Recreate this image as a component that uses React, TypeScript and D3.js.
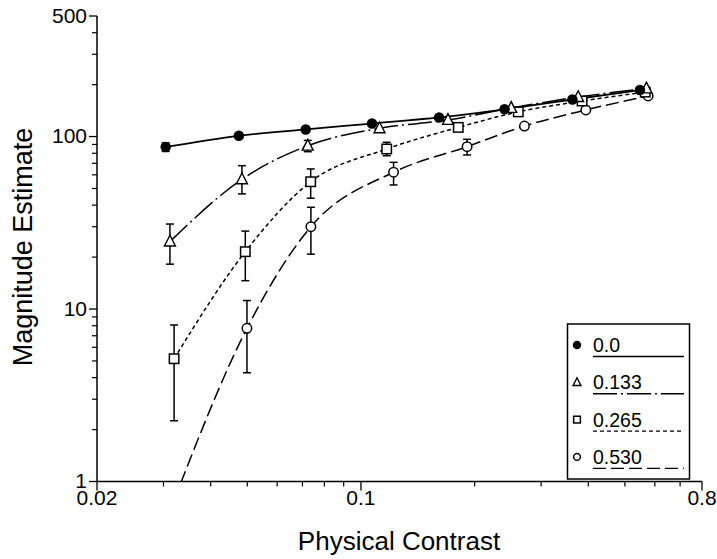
import React from 'react';
import * as d3 from 'd3';

// axis ticks
const xTicks = [0.02, 0.1, 0.8];
const xMinorTicks = [0.03, 0.04, 0.05, 0.06, 0.07, 0.08, 0.09, 0.2, 0.3, 0.4, 0.5, 0.6, 0.7];
const yTicks = [1, 10, 100, 500];
const yMinorTicks = [2, 3, 4, 5, 6, 7, 8, 9, 20, 30, 40, 50, 60, 70, 80, 90, 200, 300, 400];

const seriesNames = ['0.0', '0.133', '0.265', '0.530'];

// 0.0
const contrast0 = [0.0304, 0.0475, 0.0714, 0.107, 0.161, 0.24, 0.363, 0.548];
const magnitude0 = [87, 101, 110, 119, 129, 144, 164, 186];
const errLow0 = [82, null, null, null, null, null, null, null];
const errHigh0 = [92, null, null, null, null, null, null, null];

// 0.133
const contrast1 = [0.0312, 0.0484, 0.0723, 0.112, 0.17, 0.25, 0.376, 0.57];
const magnitude1 = [24.6, 56.5, 88.5, 111.7, 124.8, 146.5, 169.5, 190];
const errLow1 = [18.2, 46.5, 81.7, null, null, null, null, null];
const errHigh1 = [31.1, 67.8, 95, null, null, null, null, null];

// 0.265
const contrast2 = [0.032, 0.0494, 0.0736, 0.117, 0.181, 0.261, 0.385, 0.566];
const magnitude2 = [5.15, 21.5, 54.7, 84.7, 113, 139, 160.7, 181];
const errLow2 = [2.25, 14.6, 43.9, 77.4, null, null, null, null];
const errHigh2 = [8.08, 28.3, 64.9, 92.6, null, null, null, null];

// 0.530 (first point lies below the axis)
const contrast3 = [0.032, 0.0499, 0.0737, 0.122, 0.191, 0.271, 0.394, 0.576];
const magnitude3 = [0.78, 7.73, 30.0, 62.1, 87.4, 115, 142.6, 171.9];
const errLow3 = [null, 4.27, 20.8, 52.4, 78.2, null, null, null];
const errHigh3 = [null, 11.2, 38.9, 70.9, 96.4, null, null, null];

const contrasts = [contrast0, contrast1, contrast2, contrast3];
const magnitudes = [magnitude0, magnitude1, magnitude2, magnitude3];
const errLows = [errLow0, errLow1, errLow2, errLow3];
const errHighs = [errHigh0, errHigh1, errHigh2, errHigh3];

const markers = ['filled', 'triangle', 'square', 'circle'];
const dashes = ['none', '24 4 2 4', '4 3', '13 5'];

const W = 717;
const H = 559;
const FONT = '"Liberation Sans", Arial, Helvetica, sans-serif';

const x = d3.scaleLog().domain([0.02, 0.8]).range([97, 702]);
const y = d3.scaleLog().domain([1, 500]).range([481.5, 16]);

function Marker({ kind, cx, cy, s }: { kind: string; cx: number; cy: number; s: number }) {
  if (kind === 'filled') return <circle cx={cx} cy={cy} r={s * 0.5} fill="#000" />;
  if (kind === 'circle')
    return <circle cx={cx} cy={cy} r={s * 0.45} fill="#fff" stroke="#000" strokeWidth={1.5} />;
  if (kind === 'square')
    return (
      <rect x={cx - s * 0.45} y={cy - s * 0.45} width={s * 0.9} height={s * 0.9}
        fill="#fff" stroke="#000" strokeWidth={1.5} />
    );
  const p = `M${cx},${cy - s * 0.6}L${cx + s * 0.52},${cy + s * 0.42}L${cx - s * 0.52},${cy + s * 0.42}Z`;
  return <path d={p} fill="#fff" stroke="#000" strokeWidth={1.4} />;
}

export default function App() {
  const line = d3
    .line<[number, number]>()
    .x((d) => x(d[0]))
    .y((d) => y(d[1]))
    .curve(d3.curveMonotoneX);

  const [x0, x1] = x.range();
  const [y0, y1] = y.range();

  return (
    <svg width={W} height={H} style={{ position: 'absolute', left: 0, top: 0, background: '#fff' }}
      fontFamily={FONT}>
      <defs>
        <clipPath id="plot">
          <rect x={x0} y={y1 - 10} width={x1 - x0 + 10} height={y0 - y1 + 10} />
        </clipPath>
      </defs>

      {/* axes */}
      <line x1={x0} x2={x0} y1={y1} y2={y0} stroke="#000" strokeWidth={1.5} />
      <line x1={x0} x2={x1} y1={y0} y2={y0} stroke="#000" strokeWidth={1.5} />
      {xTicks.map((t) => (
        <g key={'xt' + t}>
          <line x1={x(t)} x2={x(t)} y1={y0} y2={y0 + 9} stroke="#000" strokeWidth={1.3} />
          <text x={x(t)} y={505} fontSize={21} textAnchor="middle">{t}</text>
        </g>
      ))}
      {xMinorTicks.map((t) => (
        <line key={'xm' + t} x1={x(t)} x2={x(t)} y1={y0} y2={y0 + 5} stroke="#000" strokeWidth={1.2} />
      ))}
      {yTicks.map((t) => (
        <g key={'yt' + t}>
          <line x1={x0 - 8} x2={x0} y1={y(t)} y2={y(t)} stroke="#000" strokeWidth={1.3} />
          <text x={87} y={y(t) + 6.5} fontSize={21} textAnchor="end">{t}</text>
        </g>
      ))}
      {yMinorTicks.map((t) => (
        <line key={'ym' + t} x1={x0 - 5} x2={x0} y1={y(t)} y2={y(t)} stroke="#000" strokeWidth={1.2} />
      ))}

      <text x={399} y={550} fontSize={26} textAnchor="middle">Physical Contrast</text>
      <text transform={`translate(32,247) rotate(-90)`} fontSize={27} textAnchor="middle">
        Magnitude Estimate
      </text>

      {/* curves */}
      <g clipPath="url(#plot)">
        {contrasts.map((cs, i) => (
          <path key={'l' + i}
            d={line(cs.map((c, j) => [c, magnitudes[i][j]] as [number, number])) || ''}
            fill="none" stroke="#000" strokeWidth={i === 0 ? 1.8 : 1.5}
            strokeDasharray={dashes[i]} />
        ))}
      </g>

      {/* error bars */}
      {contrasts.map((cs, i) =>
        cs.map((c, j) => {
          const lo = errLows[i][j];
          const hi = errHighs[i][j];
          if (lo == null || hi == null) return null;
          const cx = x(c);
          return (
            <g key={'e' + i + '-' + j} stroke="#000" strokeWidth={1.5}>
              <line x1={cx} x2={cx} y1={y(lo)} y2={y(hi)} />
              <line x1={cx - 4} x2={cx + 4} y1={y(lo)} y2={y(lo)} />
              <line x1={cx - 4} x2={cx + 4} y1={y(hi)} y2={y(hi)} />
            </g>
          );
        })
      )}

      {/* markers */}
      {[3, 2, 1, 0].map((i) =>
        contrasts[i].map((c, j) =>
          magnitudes[i][j] >= 1 ? (
            <Marker key={'m' + i + '-' + j} kind={markers[i]} cx={x(c)} cy={y(magnitudes[i][j])}
              s={10.5} />
          ) : null
        )
      )}

      {/* legend */}
      <rect x={567.5} y={324} width={122} height={155} fill="#fff" stroke="#000" strokeWidth={1.5} />
      {seriesNames.map((name, i) => {
        const cy = 345 + i * 37.3;
        return (
          <g key={'lg' + i}>
            <Marker kind={markers[i]} cx={577} cy={cy} s={i === 0 ? 8.5 : 7.5} />
            <text x={593} y={cy + 7} fontSize={19.5}>{name}</text>
            <line x1={593} x2={684} y1={cy + 11.5} y2={cy + 11.5} stroke="#000" strokeWidth={1.4}
              strokeDasharray={dashes[i]} />
          </g>
        );
      })}
    </svg>
  );
}
